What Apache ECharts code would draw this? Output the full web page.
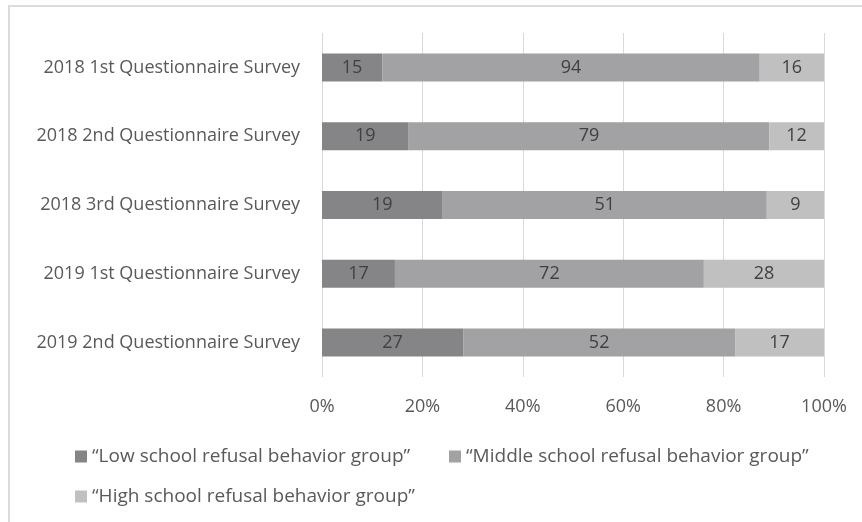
<!DOCTYPE html>
<html><head><meta charset="utf-8">
<script src="https://cdn.jsdelivr.net/npm/echarts@6/dist/echarts.min.js"></script>
<style>html,body{margin:0;padding:0;background:#fff}#c{width:862px;height:522px}</style>
</head><body><div id="c"></div>
<script>
const categories = ["2018 1st Questionnaire Survey","2018 2nd Questionnaire Survey","2018 3rd Questionnaire Survey","2019 1st Questionnaire Survey","2019 2nd Questionnaire Survey"];
const lowCounts = [15,19,19,17,27];
const midCounts = [94,79,51,72,52];
const highCounts = [16,12,9,28,17];
const seriesNames = ["\u201cLow school refusal behavior group\u201d","\u201cMiddle school refusal behavior group\u201d","\u201cHigh school refusal behavior group\u201d"];
const tickLabels = ["0%","20%","40%","60%","80%","100%"];

const colors = ["#858587","#a2a2a4","#c0c0c0"];
const FONT = '"Open Sans"';
const totals = categories.map((_, i) => lowCounts[i] + midCounts[i] + highCounts[i]);
const allCounts = [lowCounts, midCounts, highCounts];

const series = allCounts.map((arr, s) => ({
  name: seriesNames[s],
  type: 'bar',
  stack: 'total',
  barWidth: 28,
  itemStyle: { color: colors[s] },
  label: {
    show: true, position: 'inside', color: '#404040', fontFamily: FONT, fontSize: 18,
    formatter: p => arr[p.dataIndex]
  },
  data: arr.map((v, i) => v / totals[i])
}));

const legendBase = {
  orient: 'horizontal', icon: 'rect', itemWidth: 12, itemHeight: 12, itemGap: 5,
  textStyle: { color: '#595959', fontFamily: FONT, fontSize: 19 },
  padding: 0, selectedMode: false
};

const chart = echarts.init(document.getElementById('c'));
chart.setOption({
  animation: false,
  graphic: [{ type: 'rect', shape: { x: 9, y: 6, width: 900, height: 600 }, style: { fill: 'none', stroke: '#dcdcdc', lineWidth: 2 }, silent: true }],
  grid: { left: 322, right: 38, top: 33, bottom: 145, containLabel: false },
  xAxis: {
    type: 'value', min: 0, max: 1, interval: 0.2,
    axisLine: { show: false }, axisTick: { show: false },
    splitLine: { lineStyle: { color: '#d9d9d9', width: 1 } },
    axisLabel: { color: '#595959', fontFamily: FONT, fontSize: 18, margin: 21,
      formatter: v => tickLabels[Math.round(v * 5)] }
  },
  yAxis: {
    type: 'category', inverse: true, data: categories,
    axisLine: { show: false }, axisTick: { show: false },
    axisLabel: { color: '#595959', fontFamily: FONT, fontSize: 18, margin: 22 }
  },
  legend: [
    Object.assign({}, legendBase, { left: 75, top: 447, data: [seriesNames[0]] }),
    Object.assign({}, legendBase, { left: 449, top: 447, data: [seriesNames[1]] }),
    Object.assign({}, legendBase, { left: 75, top: 487, data: [seriesNames[2]] })
  ],
  series: series
});
</script></body></html>
